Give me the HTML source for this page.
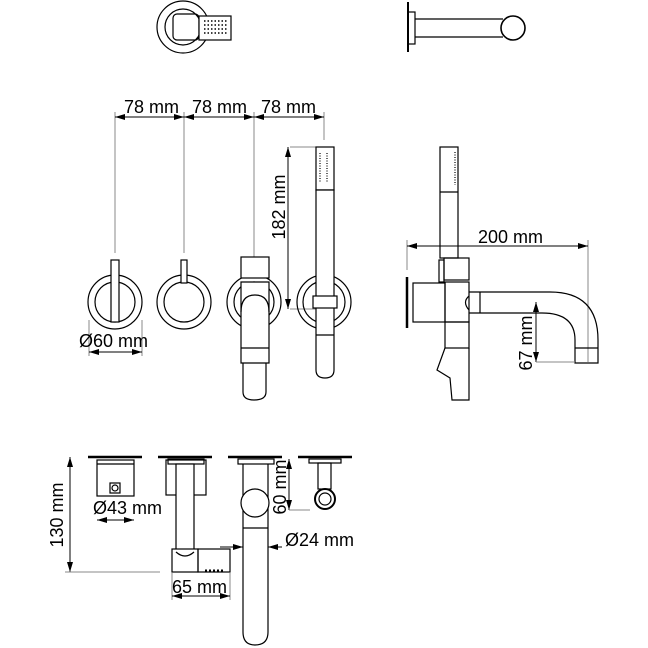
<!DOCTYPE html><html><head><style>body{margin:0;background:#fff}svg{display:block}text{font-family:"Liberation Sans",sans-serif;font-size:18px;fill:#000}</style></head><body>
<svg width="648" height="648" viewBox="0 0 648 648" xmlns="http://www.w3.org/2000/svg">
<defs><marker id="a" markerWidth="10" markerHeight="6" refX="10" refY="3" orient="auto-start-reverse" markerUnits="userSpaceOnUse"><path d="M0,0L10,3L0,6z" fill="#000"/></marker></defs>
<g fill="none" stroke="#000" stroke-width="1.2">
<circle cx="183" cy="27" r="26"/><circle cx="183" cy="27" r="18"/>
<rect x="173" y="14" width="26" height="26" rx="4"/>
<rect x="199" y="16" width="32" height="24" fill="#fff"/>
<g stroke-width="1.6" stroke-dasharray="1.5 2"><line x1="204" y1="21" x2="227" y2="21"/><line x1="204" y1="25" x2="227" y2="25"/><line x1="204" y1="29" x2="227" y2="29"/><line x1="204" y1="33" x2="227" y2="33"/></g>
<line x1="408" y1="2" x2="408" y2="52" stroke-width="2"/>
<rect x="408" y="12" width="7" height="32"/>
<line x1="415" y1="19" x2="503" y2="19"/><line x1="415" y1="37" x2="503" y2="37"/>
<circle cx="513" cy="28" r="12" stroke-width="1.6" fill="#fff"/>
<g stroke="#888" stroke-width="1"><line x1="115" y1="112" x2="115" y2="253"/><line x1="184" y1="112" x2="184" y2="253"/><line x1="254" y1="112" x2="254" y2="257"/><line x1="324" y1="112" x2="324" y2="140"/>
<line x1="290" y1="147" x2="316" y2="147"/><line x1="290" y1="309" x2="316" y2="309"/>
<line x1="89" y1="320" x2="89" y2="356"/><line x1="142" y1="320" x2="142" y2="356"/></g>
<g stroke-width="1"><line x1="115" y1="117" x2="184" y2="117" marker-start="url(#a)" marker-end="url(#a)"/><line x1="184" y1="117" x2="254" y2="117" marker-start="url(#a)" marker-end="url(#a)"/><line x1="254" y1="117" x2="324" y2="117" marker-start="url(#a)" marker-end="url(#a)"/>
<line x1="288" y1="147" x2="288" y2="309" marker-start="url(#a)" marker-end="url(#a)"/>
<line x1="89" y1="352" x2="142" y2="352" marker-start="url(#a)" marker-end="url(#a)"/></g>
<circle cx="115" cy="302" r="27"/><circle cx="115" cy="302" r="20"/>
<rect x="111" y="260" width="8" height="62" fill="#fff"/>
<circle cx="184" cy="302" r="27"/><circle cx="184" cy="302" r="20"/>
<rect x="181" y="260" width="6" height="23" fill="#fff"/>
<circle cx="254" cy="302" r="27"/><circle cx="254" cy="302" r="20"/>
<rect x="241" y="257" width="28" height="21" fill="#fff"/>
<path d="M241,282H269V363H241Z" fill="#fff"/><path d="M241,312Q241,295 255,295Q269,295 269,312"/><line x1="241" y1="348" x2="269" y2="348"/>
<path d="M243,363V392Q243,400 254,400Q266,400 266,392V363"/>
<circle cx="324" cy="302" r="27"/><circle cx="324" cy="302" r="21"/>
<rect x="316" y="147" width="18" height="43" fill="#fff"/>
<line x1="320" y1="153" x2="320" y2="183" stroke-dasharray="1 1.5"/><line x1="327" y1="153" x2="327" y2="183" stroke-dasharray="1 1.5"/>
<path d="M316,190H334V370Q334,378 325,378Q316,378 316,370Z" fill="#fff"/>
<rect x="313" y="296" width="24" height="12" fill="#fff"/><line x1="316" y1="335" x2="334" y2="335"/>
<line x1="407" y1="240" x2="407" y2="270" stroke="#888" stroke-width="1"/><line x1="588" y1="240" x2="588" y2="362" stroke="#888" stroke-width="1"/>
<line x1="407" y1="246" x2="588" y2="246" stroke-width="1" marker-start="url(#a)" marker-end="url(#a)"/>
<rect x="440" y="147" width="18" height="111"/><line x1="440" y1="192" x2="458" y2="192"/>
<line x1="455" y1="152" x2="455" y2="185" stroke-dasharray="1 1.5"/>
<line x1="407" y1="277" x2="407" y2="328" stroke-width="2.5"/>
<rect x="413" y="283" width="32" height="39"/><rect x="445" y="282" width="24" height="40"/>
<rect x="444" y="258" width="25" height="22"/><rect x="439" y="260" width="5" height="22"/>
<path d="M469,292H550Q598,292 598,340V363H575V340Q575,313 542,313H469"/>
<line x1="480" y1="292" x2="480" y2="313"/><line x1="575" y1="348" x2="598" y2="348"/>
<path d="M469,296Q462,302 469,310"/>
<rect x="445" y="322" width="24" height="26"/>
<path d="M445,348L437,370L450,378L452,400H469V348"/>
<line x1="536" y1="302" x2="536" y2="362" stroke-width="1" marker-start="url(#a)" marker-end="url(#a)"/>
<line x1="536" y1="362" x2="575" y2="362" stroke="#888" stroke-width="1"/>
<g stroke-width="2.5"><line x1="88" y1="457" x2="142" y2="457"/><line x1="158" y1="457" x2="212" y2="457"/><line x1="228" y1="457" x2="282" y2="457"/><line x1="298" y1="457" x2="352" y2="457"/></g>
<line x1="70" y1="457" x2="70" y2="572" stroke-width="1" marker-start="url(#a)" marker-end="url(#a)"/>
<line x1="65" y1="572" x2="160" y2="572" stroke="#888" stroke-width="1"/>
<rect x="97" y="460" width="37" height="36"/><line x1="97" y1="464" x2="134" y2="464"/><rect x="110" y="483" width="10" height="10"/><circle cx="115" cy="488" r="3"/>
<line x1="97" y1="520" x2="134" y2="520" stroke-width="1" marker-start="url(#a)" marker-end="url(#a)"/>
<rect x="166" y="460" width="40" height="35"/><rect x="168" y="459" width="36" height="5"/>
<rect x="176" y="464" width="18" height="86" fill="#fff"/>
<rect x="172" y="549" width="26" height="23" fill="#fff"/><path d="M176,552Q185,560 194,552"/>
<rect x="198" y="549" width="32" height="23"/>
<line x1="205" y1="571" x2="225" y2="571" stroke-width="3" stroke-dasharray="2 2"/>
<line x1="172" y1="573" x2="172" y2="600" stroke="#888" stroke-width="1"/><line x1="230" y1="573" x2="230" y2="600" stroke="#888" stroke-width="1"/>
<line x1="172" y1="596" x2="230" y2="596" stroke-width="1" marker-start="url(#a)" marker-end="url(#a)"/>
<rect x="238" y="459" width="36" height="5"/>
<path d="M243,464V632Q243,645 255,645Q268,645 268,632V464"/>
<circle cx="255" cy="503" r="14" fill="#fff"/><line x1="243" y1="528" x2="268" y2="528"/>
<line x1="220" y1="547" x2="243" y2="547" stroke-width="1" marker-end="url(#a)"/><line x1="282" y1="547" x2="268" y2="547" stroke-width="1" marker-end="url(#a)"/>
<line x1="289" y1="459" x2="289" y2="510" stroke-width="1" marker-start="url(#a)" marker-end="url(#a)"/><line x1="289" y1="510" x2="310" y2="510" stroke="#888" stroke-width="1"/>
<rect x="309" y="459" width="32" height="4"/><rect x="318" y="463" width="13" height="26"/>
<circle cx="325" cy="499" r="10" stroke-width="2"/><circle cx="325" cy="499" r="6"/>
</g>
<text x="124" y="113">78 mm</text><text x="192" y="113">78 mm</text><text x="261" y="113">78 mm</text>
<text x="79" y="347">Ø60 mm</text>
<text transform="translate(285,207) rotate(-90)" text-anchor="middle">182 mm</text>
<text x="478" y="243">200 mm</text>
<text transform="translate(532,343) rotate(-90)" text-anchor="middle">67 mm</text>
<text transform="translate(63,515) rotate(-90)" text-anchor="middle">130 mm</text>
<text x="93" y="514">Ø43 mm</text>
<text x="172" y="593">65 mm</text>
<text x="285" y="546">Ø24 mm</text>
<text transform="translate(286,487) rotate(-90)" text-anchor="middle">60 mm</text>
</svg></body></html>
